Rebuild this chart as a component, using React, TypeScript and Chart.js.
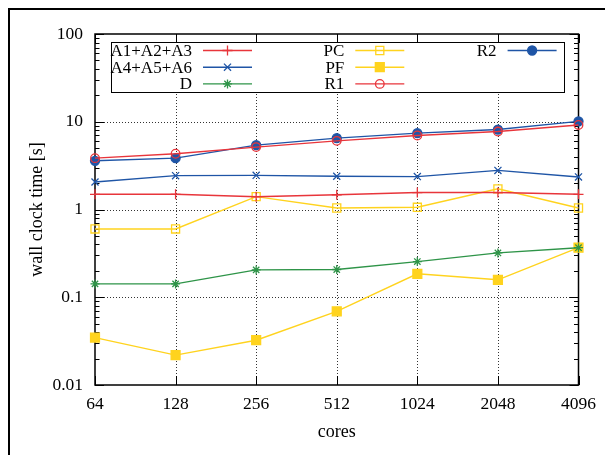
import React, { useEffect, useRef } from 'react';
import { Chart, registerables } from 'chart.js';
import { drawPoint } from 'chart.js/helpers';

Chart.register(...registerables);

const cores = ['64', '128', '256', '512', '1024', '2048', '4096'];
const yTickValues = [0.01, 0.1, 1, 10, 100];

const a1a2a3 = [1.49, 1.49, 1.40, 1.47, 1.56, 1.56, 1.49];
const a4a5a6 = [2.06, 2.43, 2.45, 2.39, 2.37, 2.79, 2.35];
const dValues = [0.142, 0.142, 0.205, 0.207, 0.255, 0.32, 0.367];
const pcValues = [0.60, 0.60, 1.40, 1.04, 1.06, 1.72, 1.04];
const pfValues = [0.0347, 0.0219, 0.0324, 0.069, 0.185, 0.158, 0.367];
const r1Values = [3.85, 4.32, 5.14, 6.06, 6.97, 7.73, 9.2];
const r2Values = [3.59, 3.85, 5.41, 6.5, 7.41, 8.15, 10.1];

const RED = '#e8353b';
const BLUE = '#1f55a6';
const GREEN = '#2e9448';
const YELLOW = '#ffd31e';

const FONT_FAMILY = '"Liberation Serif", "Times New Roman", serif';

const framePlugin = {
  id: 'gpFrame',
  beforeDatasetsDraw(chart: any) {
    const { ctx, chartArea: ca, scales } = chart;
    const x = scales.x;
    const y = scales.y;
    ctx.save();
    ctx.strokeStyle = 'rgba(0,0,0,0.8)';
    ctx.lineWidth = 1;
    ctx.setLineDash([1, 2]);
    yTickValues.forEach((v) => {
      const py = Math.round(y.getPixelForValue(v)) + 0.5;
      if (py > ca.top + 2 && py < ca.bottom - 2) {
        ctx.beginPath();
        ctx.moveTo(ca.left, py);
        ctx.lineTo(ca.right, py);
        ctx.stroke();
      }
    });
    cores.forEach((_, i) => {
      const px = Math.round(x.getPixelForValue(i)) + 0.5;
      if (px > ca.left + 2 && px < ca.right - 2) {
        ctx.beginPath();
        ctx.moveTo(px, ca.top);
        ctx.lineTo(px, ca.bottom);
        ctx.stroke();
      }
    });
    ctx.setLineDash([]);
    ctx.strokeStyle = '#000';
    ctx.lineWidth = 1;
    const major = 9;
    const minor = 4.5;
    yTickValues.forEach((v) => {
      const py = Math.round(y.getPixelForValue(v)) + 0.5;
      ctx.beginPath();
      ctx.moveTo(ca.left, py);
      ctx.lineTo(ca.left + major, py);
      ctx.moveTo(ca.right, py);
      ctx.lineTo(ca.right - major, py);
      ctx.stroke();
    });
    yTickValues.slice(0, -1).forEach((d) => {
      for (let m = 2; m <= 9; m++) {
        const py = Math.round(y.getPixelForValue(d * m)) + 0.5;
        ctx.beginPath();
        ctx.moveTo(ca.left, py);
        ctx.lineTo(ca.left + minor, py);
        ctx.moveTo(ca.right, py);
        ctx.lineTo(ca.right - minor, py);
        ctx.stroke();
      }
    });
    cores.forEach((_, i) => {
      const px = Math.round(x.getPixelForValue(i)) + 0.5;
      ctx.beginPath();
      ctx.moveTo(px, ca.bottom);
      ctx.lineTo(px, ca.bottom - major);
      ctx.moveTo(px, ca.top);
      ctx.lineTo(px, ca.top + major);
      ctx.stroke();
    });
    ctx.lineWidth = 1.5;
    ctx.strokeRect(ca.left, ca.top, ca.right - ca.left, ca.bottom - ca.top);
    ctx.restore();
  },
};

const legendPlugin = {
  id: 'gpLegend',
  afterDatasetsDraw(chart: any) {
    const { ctx, chartArea: ca } = chart;
    const left = Math.round(ca.left + 16) + 0.5;
    const right = Math.round(ca.right - 15) + 0.5;
    const top = Math.round(ca.top + 8) + 0.5;
    const bottom = Math.round(ca.top + 58) + 0.5;
    ctx.save();
    ctx.fillStyle = '#fff';
    ctx.fillRect(left, top, right - left, bottom - top);
    ctx.strokeStyle = '#000';
    ctx.lineWidth = 1;
    ctx.strokeRect(left, top, right - left, bottom - top);
    ctx.font = `17px ${FONT_FAMILY}`;
    ctx.textAlign = 'right';
    ctx.textBaseline = 'middle';
    chart.data.datasets.forEach((ds: any, i: number) => {
      const col = Math.floor(i / 3);
      const row = i % 3;
      const textRight = ca.left + 97 + col * 152.3;
      const yy = ca.top + 16.5 + row * 16.7;
      ctx.fillStyle = '#000';
      ctx.fillText(ds.label, textRight, yy + 1);
      ctx.strokeStyle = ds.borderColor;
      ctx.lineWidth = ds.borderWidth;
      ctx.beginPath();
      ctx.moveTo(textRight + 11, yy);
      ctx.lineTo(textRight + 60, yy);
      ctx.stroke();
      ctx.fillStyle = ds.pointBackgroundColor;
      ctx.strokeStyle = ds.borderColor;
      ctx.lineWidth = ds.pointBorderWidth;
      drawPoint(ctx, {
        pointStyle: ds.pointStyle,
        radius: ds.pointRadius,
        borderWidth: ds.pointBorderWidth,
        rotation: 0,
      } as any, textRight + 35.5, yy);
    });
    ctx.restore();
  },
};

function mk(label: string, data: number[], color: string, style: string, radius: number, fill: string) {
  return {
    label,
    data,
    borderColor: color,
    backgroundColor: color,
    borderWidth: 1.4,
    pointStyle: style,
    pointRadius: radius,
    pointBorderWidth: 1.3,
    pointBackgroundColor: fill,
    pointBorderColor: color,
    tension: 0,
    clip: false,
  };
}

export default function App() {
  const ref = useRef<HTMLCanvasElement | null>(null);
  useEffect(() => {
    if (!ref.current) return;
    const tickFont = { family: FONT_FAMILY, size: 17.5 };
    const titleFont = { family: FONT_FAMILY, size: 18 };
    const chart = new Chart(ref.current, {
      type: 'line',
      data: {
        labels: cores,
        datasets: [
          mk('A1+A2+A3', a1a2a3, RED, 'cross', 5, RED),
          mk('A4+A5+A6', a4a5a6, BLUE, 'crossRot', 5, BLUE),
          mk('D', dValues, GREEN, 'star', 4.5, GREEN),
          mk('PC', pcValues, YELLOW, 'rect', 5.7, 'rgba(0,0,0,0)'),
          mk('PF', pfValues, YELLOW, 'rect', 6.3, YELLOW),
          mk('R1', r1Values, RED, 'circle', 4.3, 'rgba(0,0,0,0)'),
          mk('R2', r2Values, BLUE, 'circle', 4.5, BLUE),
        ] as any,
      },
      options: {
        responsive: false,
        animation: false,
        devicePixelRatio: 1,
        layout: { padding: { top: 34, right: 24, left: 0, bottom: 0 } },
        plugins: { legend: { display: false }, tooltip: { enabled: false } },
        scales: {
          x: {
            type: 'category',
            offset: false,
            grid: { display: false, drawTicks: false },
            border: { display: false },
            ticks: { padding: 9, color: '#000', font: tickFont, autoSkip: false, maxRotation: 0 },
            title: { display: true, text: 'cores', color: '#000', font: titleFont, padding: { top: 0, bottom: 12 } },
            afterFit: (s: any) => { s.height = 70; },
          },
          y: {
            type: 'logarithmic',
            min: 0.01,
            max: 100,
            grid: { display: false, drawTicks: false },
            border: { display: false },
            afterBuildTicks: (s: any) => { s.ticks = yTickValues.map((v) => ({ value: v })); },
            afterFit: (s: any) => { s.width = 95; },
            ticks: {
              padding: 12,
              color: '#000',
              font: tickFont,
              autoSkip: false,
              callback: (v: any) => String(v),
            },
            title: { display: true, text: 'wall clock time [s]', color: '#000', font: titleFont, padding: { top: 26, bottom: 0 } },
          },
        },
      } as any,
      plugins: [framePlugin, legendPlugin],
    });
    return () => chart.destroy();
  }, []);
  return (
    <>
      <div
        style={{
          position: 'fixed',
          left: 8,
          top: 8,
          width: 700,
          height: 600,
          border: '2px solid #000',
          boxSizing: 'border-box',
        }}
      />
      <canvas
        ref={ref}
        width={605}
        height={455}
        style={{ position: 'fixed', left: 0, top: 0, width: 605, height: 455 }}
      />
    </>
  );
}
